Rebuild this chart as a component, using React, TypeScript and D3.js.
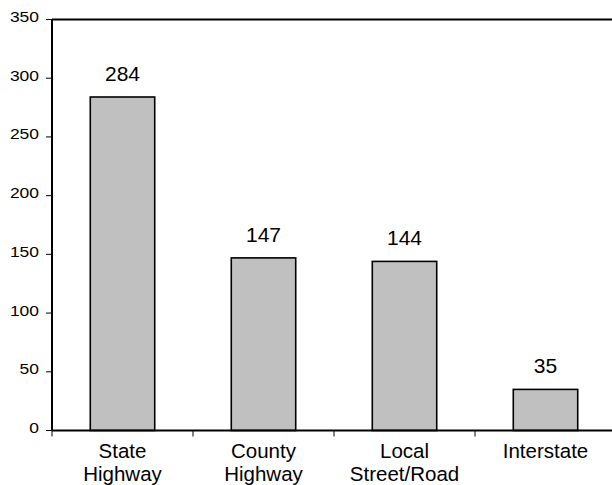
import React from "react";
import * as d3 from "d3";

const categories: string[][] = [
  ["State", "Highway"],
  ["County", "Highway"],
  ["Local", "Street/Road"],
  ["Interstate"],
];
const values: number[] = [284, 147, 144, 35];
const yTicks: number[] = [0, 50, 100, 150, 200, 250, 300, 350];

const W = 612;
const H = 485;
const left = 52;
const right = 616;
const top = 19.5;
const bottom = 430.5;
const FONT = "'Liberation Sans', Arial, Helvetica, sans-serif";

export default function App() {
  const keys = categories.map((c) => c.join(" "));
  const x = d3.scaleBand<string>().domain(keys).range([left, right]).padding(0);
  const y = d3.scaleLinear().domain([0, 350]).range([bottom, top]);
  const step = x.step();
  const barW = step * 0.457;

  return (
    <svg
      width={W}
      height={H}
      style={{ position: "absolute", left: 0, top: 0, background: "#fff" }}
      fontFamily={FONT}
    >
      {/* bars */}
      {values.map((v, i) => {
        const cx = (x(keys[i]) as number) + step / 2;
        return (
          <g key={keys[i]}>
            <rect
              x={cx - barW / 2}
              y={y(v)}
              width={barW}
              height={y(0) - y(v)}
              fill="#c0c0c0"
              stroke="#000"
              strokeWidth={1.6}
            />
            <text
              x={cx}
              y={y(v) - 16}
              textAnchor="middle"
              fontSize={21}
              fill="#000"
            >
              {v}
            </text>
            {categories[i].map((line, j) => (
              <text
                key={j}
                x={cx}
                y={458 + j * 23}
                textAnchor="middle"
                fontSize={20.5}
                fill="#000"
              >
                {line}
              </text>
            ))}
          </g>
        );
      })}

      {/* top frame line */}
      <line x1={left} x2={W} y1={y(350)} y2={y(350)} stroke="#000" strokeWidth={2} />
      {/* x axis */}
      <line x1={left} x2={W} y1={y(0)} y2={y(0)} stroke="#000" strokeWidth={2} />
      {keys.map((k) => (
        <line
          key={k}
          x1={x(k) as number}
          x2={x(k) as number}
          y1={y(0)}
          y2={y(0) + 6}
          stroke="#000"
          strokeWidth={1}
        />
      ))}
      {/* y axis */}
      <line x1={left} x2={left} y1={y(350)} y2={y(0)} stroke="#000" strokeWidth={2} />
      {yTicks.map((t) => (
        <g key={t}>
          <line x1={left - 6} x2={left} y1={y(t)} y2={y(t)} stroke="#000" strokeWidth={1} />
          <text
            x={39}
            y={y(t) + 2.5}
            textAnchor="end"
            fontSize={14}
            fill="#000"
            textLength={String(t).length * 9.7}
            lengthAdjust="spacingAndGlyphs"
          >
            {t}
          </text>
        </g>
      ))}
    </svg>
  );
}
